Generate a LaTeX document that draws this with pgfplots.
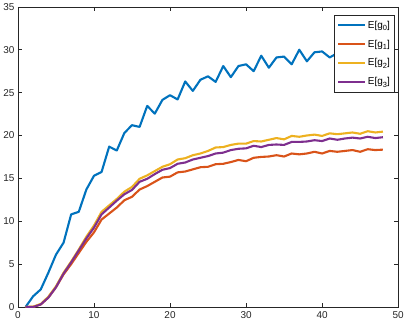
\documentclass[border=0pt]{standalone}
\usepackage{fontspec}
\setmainfont{Liberation Sans}
\usepackage{pgfplots}
\pgfplotsset{compat=1.18}
\definecolor{c0}{rgb}{0,0.447,0.741}
\definecolor{c1}{rgb}{0.85,0.325,0.098}
\definecolor{c2}{rgb}{0.929,0.694,0.125}
\definecolor{c3}{rgb}{0.494,0.184,0.556}
\definecolor{axgray}{rgb}{0.15,0.15,0.15}
\newcommand{\sub}[1]{\raisebox{-0.45ex}{\fontsize{7.5}{8}\selectfont #1}}
\pgfplotstableread{
x g0 g1 g2 g3
1 0.0 0.0 0.0 0.0
2 1.25 0.0 0.05 0.0
3 2.05 0.3 0.35 0.3
4 4.0 1.1 1.2 1.1
5 6.1 2.3 2.4 2.3
6 7.5 3.8 4.0 3.9
7 10.8 5.0 5.3 5.2
8 11.1 6.3 6.7 6.6
9 13.7 7.6 8.2 8.0
10 15.3 8.7 9.5 9.25
11 15.75 10.2 11.1 10.8
12 18.7 10.9 11.85 11.6
13 18.25 11.6 12.6 12.4
14 20.3 12.45 13.45 13.15
15 21.2 12.85 14.0 13.65
16 21.0 13.7 14.95 14.6
17 23.45 14.1 15.35 14.95
18 22.55 14.6 15.85 15.5
19 24.15 15.1 16.35 16.0
20 24.7 15.2 16.65 16.2
21 24.2 15.7 17.2 16.7
22 26.3 15.8 17.35 16.85
23 25.2 16.05 17.7 17.2
24 26.5 16.3 17.9 17.4
25 26.9 16.35 18.2 17.6
26 26.25 16.65 18.6 17.9
27 28.1 16.7 18.65 18.0
28 26.8 16.9 18.9 18.3
29 28.1 17.15 19.05 18.45
30 28.3 17.0 19.05 18.5
31 27.5 17.4 19.35 18.8
32 29.3 17.5 19.3 18.65
33 27.9 17.55 19.5 18.9
34 29.1 17.7 19.7 18.95
35 29.2 17.55 19.55 18.9
36 28.3 17.9 19.95 19.25
37 30.0 17.8 19.85 19.25
38 28.65 17.9 20.0 19.3
39 29.7 18.1 20.1 19.45
40 29.8 17.9 19.95 19.35
41 29.1 18.2 20.25 19.65
42 29.6 18.1 20.15 19.5
43 29.9 18.2 20.25 19.65
44 29.4 18.3 20.35 19.75
45 30.1 18.1 20.2 19.65
46 29.7 18.4 20.5 19.85
47 30.0 18.3 20.35 19.7
48 29.8 18.35 20.45 19.8
}\data
\begin{document}
\begin{tikzpicture}
\begin{axis}[
  scale only axis,
  width=380bp, height=300bp,
  xmin=0, xmax=50, ymin=0, ymax=35,
  xtick={0,10,...,50}, ytick={0,5,...,35},
  tick align=inside,
  major tick length=4bp,
  axis line style={axgray, line width=0.5bp},
  every tick/.style={axgray, line width=0.5bp},
  tick label style={font=\fontsize{10}{12}\selectfont, text=axgray},
  /pgf/number format/assume math mode=true,
  xticklabel style={yshift=-1bp},
  legend cell align=left,
  legend style={at={(rel axis cs:0.99,0.973)}, anchor=north east,
    draw=axgray, line width=0.5bp, font=\fontsize{10}{12}\selectfont,
    row sep=6.5bp, inner xsep=2.5bp, inner ysep=4bp, text=black,
    nodes={inner sep=1.8bp}},
  legend image code/.code={\draw[#1] (0bp,0bp) -- (27bp,0bp);},
  every axis plot/.append style={line width=2.1bp, line join=round},
]
\addplot[c0] table[x=x,y=g0]{\data};
\addplot[c1] table[x=x,y=g1]{\data};
\addplot[c2] table[x=x,y=g2]{\data};
\addplot[c3] table[x=x,y=g3]{\data};
\legend{E[g\sub{0}],E[g\sub{1}],E[g\sub{2}],E[g\sub{3}]}
\end{axis}
\end{tikzpicture}
\end{document}
